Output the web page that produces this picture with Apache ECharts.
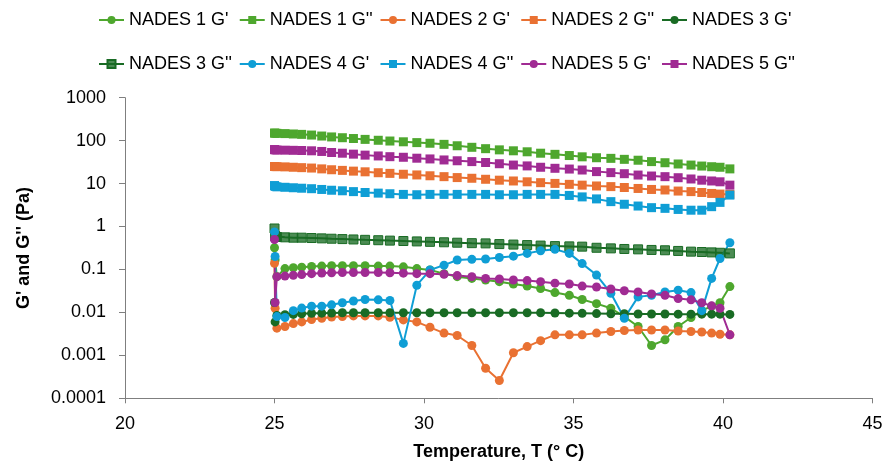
<!DOCTYPE html>
<html>
<head>
<meta charset="utf-8">
<script src="https://cdn.jsdelivr.net/npm/echarts@6/dist/echarts.min.js"></script>
<style>
  html, body { margin: 0; padding: 0; background: #fff; }
</style>
</head>
<body>
<div id="main" style="width: 885px;height:464px;"></div>

<script type="text/javascript">
    // 温度 (°C)
    var temps = [25.0, 25.02, 25.08, 25.35, 25.63, 25.91, 26.24, 26.58, 26.91, 27.27,
        27.64, 28.03, 28.47, 28.86, 29.31, 29.76, 30.2, 30.67, 31.11, 31.6,
        32.06, 32.52, 32.99, 33.45, 33.9, 34.38, 34.86, 35.29, 35.77, 36.25,
        36.7, 37.16, 37.61, 38.06, 38.5, 38.93, 39.29, 39.62, 39.9, 40.23];

    // G' / G'' (Pa)
    var nades1G1 = [0.32, 0.166, 0.068, 0.105, 0.11, 0.113, 0.117, 0.12, 0.122, 0.122,
        0.122, 0.122, 0.12, 0.12, 0.115, 0.105, 0.097, 0.08, 0.068, 0.062,
        0.057, 0.052, 0.046, 0.041, 0.036, 0.029, 0.025, 0.02, 0.016, 0.0125,
        0.008, 0.0047, 0.0017, 0.0023, 0.0047, 0.0076, 0.011, 0.014, 0.0168, 0.04];
    var nades1G2 = [150, 149, 148, 146, 143, 140, 135, 128, 122, 117,
        112, 107, 102, 98, 94, 90, 87, 82, 76, 70,
        65, 61, 58, 55, 51, 48, 45, 42, 40, 38.7,
        36.7, 35, 32.5, 30.6, 28.6, 27, 25.6, 24.7, 24, 22];
    var nades2G1 = [0.14, 0.0125, 0.0043, 0.0047, 0.0055, 0.006, 0.0068, 0.0073, 0.0078, 0.008,
        0.0083, 0.0083, 0.0083, 0.0077, 0.0067, 0.006, 0.0045, 0.0033, 0.0029, 0.0017,
        0.0005, 0.00026, 0.00115, 0.0016, 0.0022, 0.003, 0.003, 0.003, 0.0033, 0.0036,
        0.0038, 0.0039, 0.0039, 0.0039, 0.0037, 0.0036, 0.0035, 0.0033, 0.0031, 0.003];
    var nades2G2 = [25, 24.9, 24.8, 24.5, 24, 23.5, 23, 22, 21, 20.3,
        19.5, 18.8, 17.9, 17.3, 16.5, 15.9, 15.2, 14.5, 13.8, 13.3,
        12.6, 12, 11.5, 11, 10.5, 10.1, 9.6, 9.2, 8.8, 8.5,
        8.1, 7.7, 7.3, 7.1, 6.7, 6.5, 6.2, 5.9, 5.7, 5.6];
    var nades3G1 = [0.017, 0.006, 0.0085, 0.0088, 0.009, 0.0093, 0.0095, 0.0096, 0.0097, 0.0098,
        0.0098, 0.0098, 0.0098, 0.0098, 0.0098, 0.0098, 0.0098, 0.0098, 0.0098, 0.0098,
        0.0098, 0.0098, 0.0098, 0.0098, 0.0098, 0.0097, 0.0096, 0.0095, 0.0094, 0.0093,
        0.0093, 0.0092, 0.0092, 0.0092, 0.0091, 0.0091, 0.0091, 0.0091, 0.0091, 0.009];
    var nades3G2 = [0.9, 0.6, 0.57, 0.56, 0.55, 0.55, 0.54, 0.53, 0.52, 0.51,
        0.5, 0.49, 0.48, 0.47, 0.46, 0.45, 0.44, 0.43, 0.42, 0.41,
        0.405, 0.39, 0.38, 0.37, 0.36, 0.35, 0.345, 0.34, 0.32, 0.31,
        0.3, 0.294, 0.285, 0.28, 0.27, 0.26, 0.255, 0.25, 0.245, 0.237];
    var nades4G1 = [0.75, 0.2, 0.008, 0.0076, 0.011, 0.0126, 0.014, 0.014, 0.015, 0.0168,
        0.0184, 0.02, 0.0196, 0.019, 0.0019, 0.043, 0.097, 0.126, 0.166, 0.172,
        0.175, 0.19, 0.204, 0.237, 0.272, 0.295, 0.237, 0.137, 0.074, 0.028,
        0.0073, 0.023, 0.025, 0.03, 0.033, 0.029, 0.011, 0.062, 0.18, 0.42];
    var nades4G2 = [9, 8.6, 8.4, 8.2, 8, 7.8, 7.6, 7.3, 7, 6.8,
        6.5, 6.2, 6, 5.8, 5.6, 5.5, 5.6, 5.6, 5.6, 5.6,
        5.6, 5.5, 5.5, 5.6, 5.6, 5.6, 5.3, 4.9, 4.4, 3.8,
        3.3, 3.0, 2.75, 2.65, 2.5, 2.4, 2.4, 2.9, 3.65, 5.4];
    var nades5G1 = [0.5, 0.017, 0.068, 0.07, 0.073, 0.076, 0.08, 0.083, 0.084, 0.085,
        0.085, 0.085, 0.085, 0.084, 0.082, 0.08, 0.08, 0.077, 0.072, 0.068,
        0.062, 0.06, 0.057, 0.055, 0.052, 0.048, 0.046, 0.041, 0.039, 0.035,
        0.032, 0.03, 0.027, 0.025, 0.021, 0.0196, 0.0168, 0.0142, 0.0125, 0.003];
    var nades5G2 = [62, 61, 60.5, 60, 59.5, 59, 58, 56, 53, 51,
        48.5, 46, 44, 42.3, 41, 39, 37.5, 35.5, 34, 32.5,
        31, 29, 27, 25.8, 24, 22.7, 21.8, 20.7, 19, 18,
        17, 15.8, 15, 14.5, 13.7, 12.8, 12, 11.5, 11, 9.2];

    var yTicks = [0.0001, 0.001, 0.01, 0.1, 1, 10, 100, 1000];

    var names = ["NADES 1 G'", "NADES 1 G''", "NADES 2 G'", "NADES 2 G''", "NADES 3 G'",
        "NADES 3 G''", "NADES 4 G'", "NADES 4 G''", "NADES 5 G'", "NADES 5 G''"];
    var values = [nades1G1, nades1G2, nades2G1, nades2G2, nades3G1,
        nades3G2, nades4G1, nades4G2, nades5G1, nades5G2];
    var colors = ['#4EA72E', '#4EA72E', '#E97132', '#E97132', '#196B24',
        '#196B24', '#0F9ED5', '#0F9ED5', '#A02B93', '#A02B93'];

    var font = 'Liberation Sans, Arial, sans-serif';

    var myChart = echarts.init(document.getElementById('main'));

    var series = names.map(function (name, i) {
        var isG2 = i % 2 === 1;
        var fill = colors[i];
        if (i === 5) fill = 'rgba(25,107,36,0.78)';
        return {
            name: name,
            type: 'line',
            symbol: isG2 ? 'rect' : 'circle',
            symbolSize: 9,
            showSymbol: true,
            animation: false,
            lineStyle: { color: colors[i], width: 2 },
            itemStyle: { color: fill, borderColor: colors[i], borderWidth: i === 5 ? 1 : 0 },
            data: temps.map(function (t, k) { return [t, values[i][k]]; })
        };
    });

    // 图例：每项单独一个 legend，两行五列对齐
    var legends = names.map(function (name, i) {
        var col = i % 5, row = Math.floor(i / 5);
        return {
            data: [name],
            left: 93 + col * 140.75, top: 6 + row * 44,
            itemWidth: 25, itemHeight: 10,
            textStyle: { fontFamily: font, fontSize: 18, color: '#000' }
        };
    });

    var option = {
        color: colors,
        legend: legends,
        grid: { left: 125, right: 12.5, top: 97.7, bottom: 65.7, containLabel: false, outerBoundsMode: 'none' },
        xAxis: {
            type: 'value',
            min: 20, max: 45, interval: 5,
            name: 'Temperature, T (° C)',
            nameLocation: 'middle',
            nameGap: 45,
            nameTextStyle: { fontFamily: font, fontSize: 18, fontWeight: 'bold', color: '#000' },
            axisLine: { lineStyle: { color: '#7f7f7f', width: 1 } },
            axisTick: { show: true, length: 5, lineStyle: { color: '#7f7f7f' } },
            axisLabel: { fontFamily: font, fontSize: 18, color: '#000', margin: 17 },
            splitLine: { show: false }
        },
        yAxis: {
            type: 'log',
            logBase: 10,
            min: yTicks[0], max: yTicks[yTicks.length - 1],
            name: "G' and G'' (Pa)",
            nameLocation: 'middle',
            nameGap: 92,
            nameTextStyle: { fontFamily: font, fontSize: 18, fontWeight: 'bold', color: '#000' },
            axisLine: { show: true, lineStyle: { color: '#7f7f7f', width: 1 } },
            axisTick: { show: true, length: 6, lineStyle: { color: '#7f7f7f' } },
            axisLabel: {
                fontFamily: font, fontSize: 18, color: '#000', margin: 19,
                formatter: function (v) { return String(Number(v.toPrecision(1))); }
            },
            splitLine: { show: false }
        },
        series: series
    };

    myChart.setOption(option);
</script>
</body>
</html>
